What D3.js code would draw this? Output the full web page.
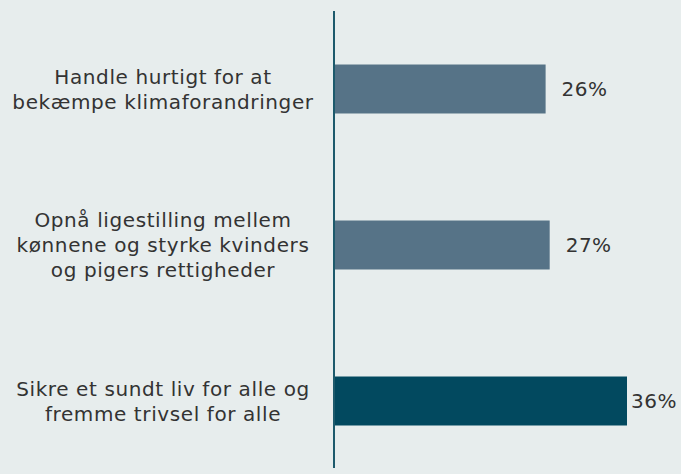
<!DOCTYPE html>
<html>
<head>
<meta charset="utf-8">
<script src="https://cdn.jsdelivr.net/npm/d3@7"></script>
<style>
  body { margin: 0; background: #e7eded; }
  svg { display: block; }
</style>
</head>
<body>
<div id="chart"></div>
<script>
var categories = [
    ["Handle hurtigt for at", "bekæmpe klimaforandringer"],
    ["Opnå ligestilling mellem", "kønnene og styrke kvinders", "og pigers rettigheder"],
    ["Sikre et sundt liv for alle og", "fremme trivsel for alle"]
]
var values = [26, 26.5, 36]
var highlight = [false, false, true]

var width = 681, height = 474
var axisX = 334

var svg = d3.select("#chart").append("svg")
    .attr("width", width)
    .attr("height", height)

svg.append("rect")
    .attr("width", width)
    .attr("height", height)
    .attr("fill", "#e7eded")

let x = d3.scaleLinear()
    .domain([0, 36])
    .range([axisX, 627])

let y = d3.scaleBand()
    .domain(d3.range(values.length))
    .range([11, 479])
    .paddingInner(0.686)
    .paddingOuter(0.343)

// bars
svg.selectAll("rect.bar")
    .data(values)
    .enter()
    .append("rect")
    .attr("class", "bar")
    .attr("x", x(0))
    .attr("y", (d, i) => y(i))
    .attr("width", d => x(d) - x(0))
    .attr("height", y.bandwidth())
    .attr("fill", (d, i) => highlight[i] ? "#02495f" : "#567387")

// value labels, kept inside the chart on the right
svg.selectAll("text.value")
    .data(values)
    .enter()
    .append("text")
    .attr("class", "value")
    .attr("y", (d, i) => y(i) + y.bandwidth() / 2)
    .attr("dy", "0.35em")
    .attr("font-family", "DejaVu Sans, Verdana, sans-serif")
    .attr("font-size", 20)
    .attr("letter-spacing", 0.5)
    .attr("fill", "#333")
    .text(d => Math.round(d) + "%")
    .each(function(d) {
        let w = this.getComputedTextLength()
        d3.select(this).attr("x", Math.min(x(d) + 16, width - 4 - w))
    })

// category labels
svg.selectAll("text.cat")
    .data(categories)
    .enter()
    .append("text")
    .attr("class", "cat")
    .attr("text-anchor", "middle")
    .attr("font-family", "DejaVu Sans, Verdana, sans-serif")
    .attr("font-size", 20)
    .attr("letter-spacing", 0.6)
    .attr("fill", "#333")
    .each(function(lines, i) {
        let cy = y(i) + y.bandwidth() / 2
        let lh = 25
        let top = cy - (lines.length - 1) * lh / 2
        d3.select(this).selectAll("tspan")
            .data(lines)
            .enter()
            .append("tspan")
            .attr("x", 163)
            .attr("y", (l, j) => top + j * lh)
            .attr("dy", "0.35em")
            .text(l => l)
    })

// vertical axis line
svg.append("line")
    .attr("x1", axisX)
    .attr("x2", axisX)
    .attr("y1", 11)
    .attr("y2", 468)
    .attr("stroke", "#1d5a6c")
    .attr("stroke-width", 2)
</script>
</body>
</html>
